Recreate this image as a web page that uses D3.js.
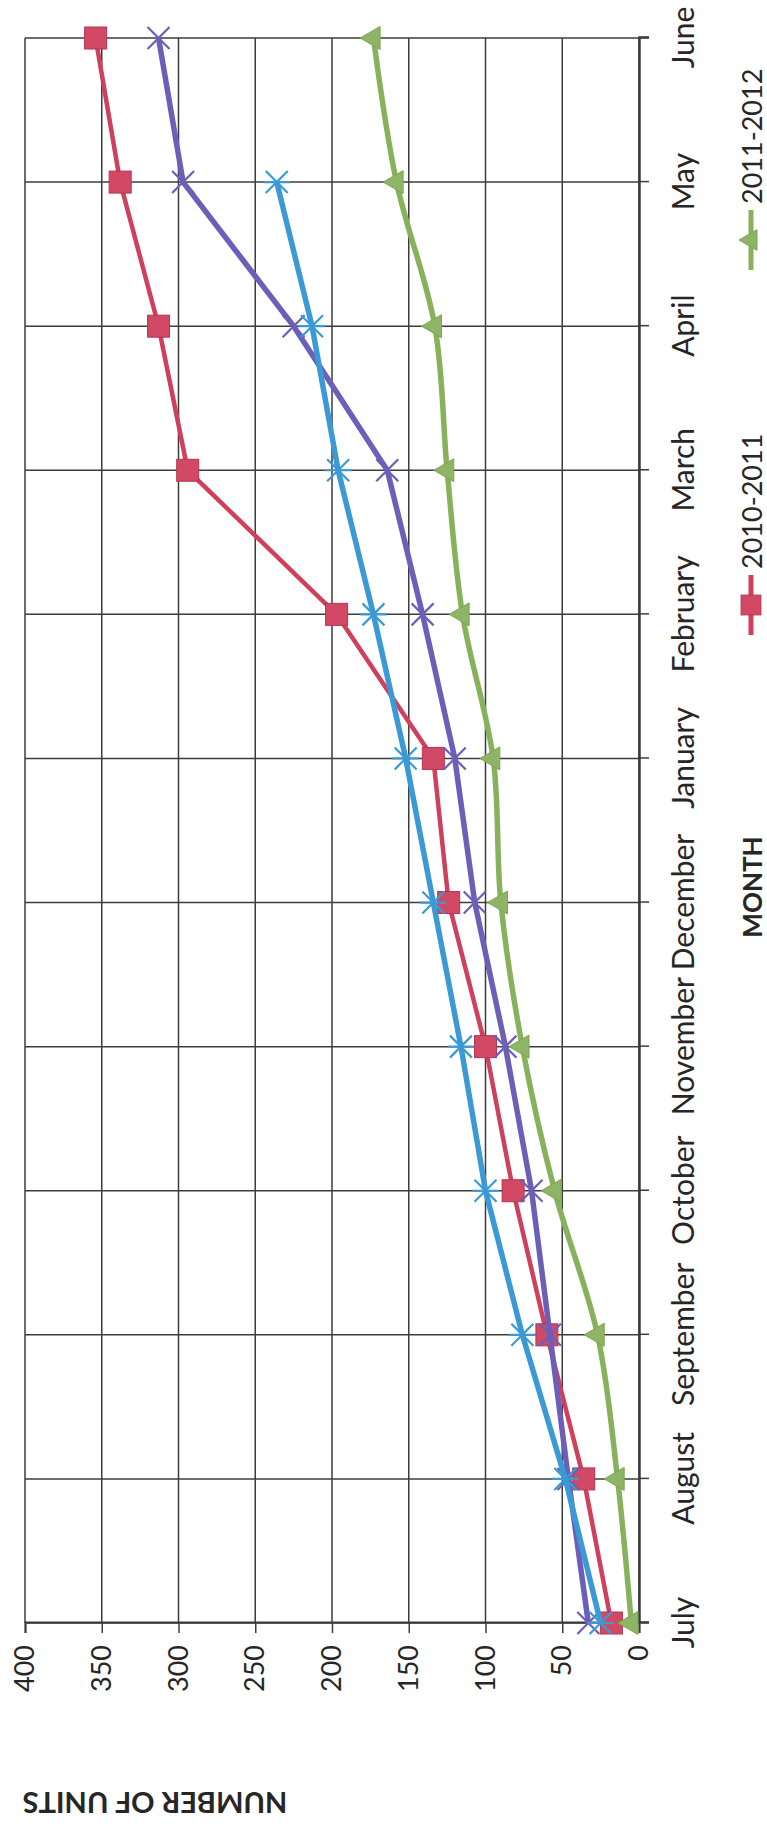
<!DOCTYPE html>
<html>
<head>
<meta charset="utf-8">
<script src="https://cdn.jsdelivr.net/npm/d3@7"></script>
<style>
  html, body { margin: 0; padding: 0; background: #ffffff; }
  svg { display: block; }
  text { font-family: Lato, "Open Sans", "Liberation Sans", sans-serif; fill: #262626; }
</style>
</head>
<body>
<svg id="chart" width="767" height="1837"></svg>
<script>
// ---- data ----
const months = ["July", "August", "September", "October", "November", "December",
                "January", "February", "March", "April", "May", "June"];
const seriesNames = ["2010-2011", "2011-2012", "2012-2013", "2013-2014"];
const values2010 = [18, 36, 60, 82, 100, 124, 134, 197, 294, 313, 338, 354];
const values2011 = [5, 14, 27, 55, 76, 90, 95, 115, 125, 133, 158, 173];
const values2012 = [33, 46, 58, 70, 87, 107, 120, 141, 164, 225, 297, 313];
const values2013 = [25, 48, 76, 100, 116, 134, 152, 173, 196, 213, 236, null];
const valueTicks = [0, 50, 100, 150, 200, 250, 300, 350, 400];
const legendShown = ["2010-2011", "2011-2012"];

// ---- styles ----
const colors = { "2010-2011": "#CF405C", "2011-2012": "#88B15C", "2012-2013": "#6B5FB7", "2013-2014": "#3B9AD6" };
const markers = { "2010-2011": "square", "2011-2012": "triangle", "2012-2013": "x", "2013-2014": "star" };
const allValues = { "2010-2011": values2010, "2011-2012": values2011, "2012-2013": values2012, "2013-2014": values2013 };

const svg = d3.select("#chart");
svg.append("rect").attr("width", 767).attr("height", 1837).attr("fill", "#ffffff");

// The chart is drawn in its normal orientation, then turned a quarter turn counter-clockwise.
const W = 1585, H = 614;
const g = svg.append("g").attr("transform", "translate(25,1623) rotate(-90)");

const x = d3.scalePoint().domain(months).range([0, W]);
const y = d3.scaleLinear().domain([0, 400]).range([H, 0]);

// grid
g.append("g").selectAll("line.h").data(valueTicks).join("line")
  .attr("x1", 0).attr("x2", W)
  .attr("y1", d => y(d)).attr("y2", d => y(d))
  .attr("stroke", "#3c3c3c").attr("stroke-width", 1.5);
g.append("g").selectAll("line.v").data(months).join("line")
  .attr("x1", d => x(d)).attr("x2", d => x(d))
  .attr("y1", 0).attr("y2", H)
  .attr("stroke", "#3c3c3c").attr("stroke-width", 1.5);

// value axis
const yAxis = g.append("g")
  .call(d3.axisLeft(y).tickValues(valueTicks).tickSize(10).tickPadding(12).tickFormat(d3.format("d")));
yAxis.select(".domain").attr("stroke", "#3c3c3c").attr("stroke-width", 2);
yAxis.selectAll(".tick line").attr("stroke", "#3c3c3c").attr("stroke-width", 1.5);
yAxis.selectAll(".tick text").attr("font-size", 27).attr("fill", "#262626")
  .style("font-family", "Lato, 'Open Sans', sans-serif");

// month axis
const xAxis = g.append("g").attr("transform", `translate(0,${H})`)
  .call(d3.axisBottom(x).tickSize(10).tickPadding(24));
xAxis.select(".domain").attr("stroke", "#3c3c3c").attr("stroke-width", 2.5);
xAxis.selectAll(".tick line").attr("stroke", "#3c3c3c").attr("stroke-width", 1.5);
xAxis.selectAll(".tick text").attr("font-size", 30).attr("fill", "#262626")
  .style("font-family", "Lato, 'Open Sans', sans-serif");

// axis titles
g.append("text")
  .attr("x", 736).attr("y", 727)
  .attr("text-anchor", "middle").attr("dominant-baseline", "central")
  .attr("font-size", 26).attr("font-weight", "bold")
  .text("MONTH");
g.append("text")
  .attr("transform", "translate(-180,130) rotate(-90)")
  .attr("text-anchor", "middle").attr("dominant-baseline", "central")
  .attr("font-size", 29).attr("font-weight", "bold")
  .text("NUMBER OF UNITS");

// marker drawing
function drawMarker(sel, type, color, scale) {
  const s = scale || 1;
  if (type === "square") {
    sel.append("rect").attr("x", -11 * s).attr("y", -11 * s).attr("width", 22 * s).attr("height", 22 * s)
      .attr("fill", "#D24966").attr("stroke", "#B8344F").attr("stroke-width", 1);
  } else if (type === "triangle") {
    sel.append("path").attr("d", d3.symbol(d3.symbolTriangle, 230 * s * s)())
      .attr("fill", "#8DB565").attr("stroke", "#7DA552").attr("stroke-width", 1);
  } else if (type === "x") {
    const r = 11 * s;
    sel.append("path").attr("d", `M${-r},${-r}L${r},${r}M${-r},${r}L${r},${-r}`)
      .attr("stroke", color).attr("stroke-width", 2.2).attr("fill", "none");
  } else if (type === "star") {
    const r = 11 * s;
    sel.append("path").attr("d", `M${-r},${-r}L${r},${r}M${-r},${r}L${r},${-r}M0,${-r * 1.2}L0,${r * 1.2}`)
      .attr("stroke", color).attr("stroke-width", 2.2).attr("fill", "none");
  }
}

// series
seriesNames.forEach(name => {
  const vals = allValues[name];
  const pts = months.map((m, i) => ({ m, v: vals[i] })).filter(p => p.v !== null && p.v !== undefined);
  const line = d3.line()
    .x(p => x(p.m)).y(p => y(p.v))
    .curve(name === "2011-2012" ? d3.curveCatmullRom.alpha(0.5) : d3.curveLinear);
  g.append("path").datum(pts)
    .attr("d", line)
    .attr("fill", "none")
    .attr("stroke", colors[name])
    .attr("stroke-width", name === "2010-2011" ? 4.5 : 5.5)
    .attr("stroke-linejoin", "round");
  const mg = g.append("g");
  pts.forEach(p => {
    const one = mg.append("g").attr("transform", `translate(${x(p.m)},${y(p.v)})`);
    drawMarker(one, markers[name], colors[name], 1);
  });
});

// legend (the remaining entries fall outside the cropped page)
const legendX = { "2010-2011": 1018, "2011-2012": 1383 };
const legendY = 726;
legendShown.forEach(name => {
  const lg = g.append("g").attr("transform", `translate(${legendX[name]},${legendY})`);
  lg.append("line").attr("x1", -30).attr("x2", 30).attr("y1", 0).attr("y2", 0)
    .attr("stroke", colors[name]).attr("stroke-width", 5);
  drawMarker(lg, markers[name], colors[name], 0.9);
  lg.append("text").attr("x", 36).attr("y", 0)
    .attr("dominant-baseline", "central")
    .attr("font-size", 27)
    .text(name);
});
</script>
</body>
</html>
